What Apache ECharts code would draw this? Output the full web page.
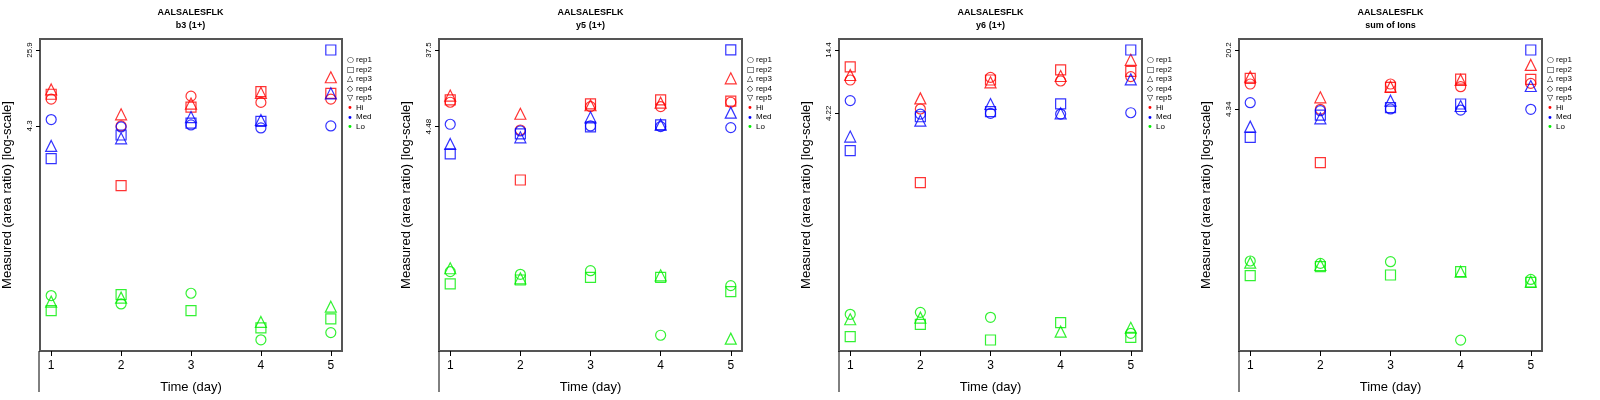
<!DOCTYPE html>
<html>
<head>
  <meta charset="utf-8">
</head>
<body style="margin:0">
  <div id="container" style="width:1600px;height:400px"></div>
  <script src="https://cdn.jsdelivr.net/npm/echarts@6/dist/echarts.min.js"></script>
  <script>
// measured values: rows are rep1, rep2, rep3; columns are days 1..5
var days = [1, 2, 3, 4, 5];
var reps = ['rep1', 'rep2', 'rep3', 'rep4', 'rep5'];
var levels = ['Hi', 'Med', 'Lo'];

var b3Hi  = [[8.1, 4.3, 8.7, 7.5, 8.1], [9.1, 1.05, 6.7, 9.7, 9.3], [10.2, 5.66, 7.3, 9.4, 13.6]];
var b3Med = [[5.0, 4.2, 4.4, 4.1, 4.3], [1.99, 3.47, 4.6, 4.8, 25.9], [2.68, 3.21, 5.3, 4.95, 9.3]];
var b3Lo  = [[0.078, 0.064, 0.0824, 0.0274, 0.0325], [0.0547, 0.0798, 0.0547, 0.0363, 0.045], [0.0676, 0.0743, null, 0.0418, 0.060]];

var y5Hi  = [[8.8, 4.08, 7.8, 7.8, 8.8], [9.4, 1.02, 8.4, 9.4, 9.1], [10.6, 6.4, 8.1, 8.7, 17.1]];
var y5Med = [[4.78, 3.97, 4.56, 4.48, 4.36], [2.10, 3.66, 4.44, 4.69, 37.5], [2.77, 3.33, 5.8, 4.73, 6.6]];
var y5Lo  = [[0.0805, 0.0747, 0.0826, 0.0138, 0.0546], [0.0572, 0.0638, 0.0687, 0.0687, 0.0462], [0.0883, 0.0668, null, 0.0726, 0.01256]];

var y6Hi  = [[8.05, 4.59, 8.47, 7.9, 8.6], [10.4, 1.10, 8.05, 9.8, 9.5], [8.87, 5.64, 7.7, 8.7, 11.9]];
var y6Med = [[5.4, 4.16, 4.22, 4.16, 4.27], [2.05, 3.95, 4.36, 5.06, 14.4], [2.69, 3.66, 5.06, 4.22, 8.15]];
var y6Lo  = [[0.0859, 0.0892, 0.081, null, 0.0594], [0.0557, 0.0707, 0.0522, 0.073, 0.055], [0.078, 0.0805, null, 0.0614, 0.0662]];

var sumHi  = [[8.36, 4.34, 8.36, 7.8, 8.5], [9.68, 1.09, 7.67, 9.5, 9.45], [10.1, 5.92, 7.8, 9.3, 13.7]];
var sumMed = [[5.15, 4.19, 4.38, 4.26, 4.34], [2.10, 3.74, 4.53, 4.98, 20.2], [2.77, 3.44, 5.43, 4.73, 7.94]];
var sumLo  = [[0.0851, 0.080, 0.0836, 0.01096, 0.0528], [0.0582, 0.0734, 0.0592, 0.0646, 0.0490], [0.0815, 0.0767, null, 0.0646, 0.0498]];

var titles = ['b3 (1+)', 'y5 (1+)', 'y6 (1+)', 'sum of Ions'];
var yTicks = [[4.3, 25.9], [4.48, 37.5], [4.22, 14.4], [4.34, 20.2]];
var yRange = [[-1.677, 1.526], [-2.050, 1.706], [-1.375, 1.251], [-2.083, 1.429]];

var panels = [
  [b3Hi, b3Med, b3Lo],
  [y5Hi, y5Med, y5Lo],
  [y6Hi, y6Med, y6Lo],
  [sumHi, sumMed, sumLo]
];

var colors = ['#ff0000', '#0000ff', '#00ee00'];
var shapes = ['circle', 'rect', 'triangle'];
var sizes = [10, 10, 11];
var lefts = [39, 439, 839, 1239];
var gw = 303;

var grids = [], xAxes = [], yAxes = [], series = [], graphics = [];

panels.forEach(function (panel, p) {
  grids.push({ left: lefts[p], top: 39, width: gw, height: 312, show: true,
    borderColor: '#555', borderWidth: 2, backgroundColor: 'transparent' });
  xAxes.push({ gridIndex: p, type: 'value', min: 0.84, max: 5.16, position: 'bottom',
    axisLine: { show: false, onZero: false }, splitLine: { show: false },
    axisTick: { show: true, length: 5, customValues: days, lineStyle: { color: '#000' } },
    axisLabel: { customValues: days, color: '#000', fontSize: 12, margin: 9, fontFamily: 'Liberation Sans' },
    name: 'Time (day)', nameLocation: 'middle', nameGap: 30,
    nameTextStyle: { fontSize: 13, color: '#000', fontFamily: 'Liberation Sans' } });
  var tv = yTicks[p].map(function (v) { return Math.log10(v); });
  yAxes.push({ gridIndex: p, type: 'value', min: yRange[p][0], max: yRange[p][1],
    axisLine: { show: false, onZero: false }, splitLine: { show: false },
    axisTick: { show: true, length: 4, customValues: tv, lineStyle: { color: '#000' } },
    axisLabel: { customValues: tv, rotate: 90, fontSize: 8, color: '#000', margin: 6,
      fontFamily: 'Liberation Sans',
      formatter: function (v) {
        var i = tv.findIndex(function (t) { return Math.abs(t - v) < 1e-6; });
        return i >= 0 ? String(yTicks[p][i]) : '';
      } },
    name: 'Measured (area ratio) [log-scale]', nameLocation: 'middle', nameGap: 26,
    nameTextStyle: { fontSize: 13, color: '#000', fontFamily: 'Liberation Sans' } });

  panel.forEach(function (lev, l) {
    lev.forEach(function (row, r) {
      series.push({ type: 'scatter', xAxisIndex: p, yAxisIndex: p,
        name: levels[l] + ' ' + reps[r], symbol: shapes[r], symbolSize: sizes[r],
        itemStyle: { color: 'rgba(0,0,0,0)', borderColor: colors[l], borderWidth: 1.2 },
        data: row.map(function (v, d) { return v == null ? null : [days[d], Math.log10(v)]; })
          .filter(function (x) { return x; }) });
    });
  });

  var cx = lefts[p] + gw / 2;
  graphics.push({ type: 'text', x: cx, y: 8, style: { text: 'AALSALESFLK', align: 'center',
    font: 'bold 9px Liberation Sans', fill: '#000' } });
  graphics.push({ type: 'text', x: cx, y: 21, style: { text: titles[p], align: 'center',
    font: 'bold 9px Liberation Sans', fill: '#000' } });
  graphics.push({ type: 'line', shape: { x1: lefts[p], y1: 351, x2: lefts[p], y2: 392 },
    style: { stroke: '#000', lineWidth: 1 } });

  var legendSyms = ['○', '□', '△', '◇', '▽', '•', '•', '•'];
  var legendTxt = reps.concat(levels);
  var legendCol = ['#000', '#000', '#000', '#000', '#000'].concat(colors);
  legendTxt.forEach(function (t, i) {
    var ly = 56 + i * 9.5;
    graphics.push({ type: 'text', x: lefts[p] + gw + 5, y: ly,
      style: { text: legendSyms[i], font: (i >= 5 ? '10px' : '8px') + ' DejaVu Sans', fill: legendCol[i] } });
    graphics.push({ type: 'text', x: lefts[p] + gw + 14, y: ly,
      style: { text: t, font: '8px Liberation Sans', fill: '#000' } });
  });
});

var chart = echarts.init(document.getElementById('container'), null, { renderer: 'canvas' });
chart.setOption({
  backgroundColor: '#fff',
  animation: false,
  grid: grids,
  xAxis: xAxes,
  yAxis: yAxes,
  series: series,
  graphic: graphics
});
  </script>
</body>
</html>
